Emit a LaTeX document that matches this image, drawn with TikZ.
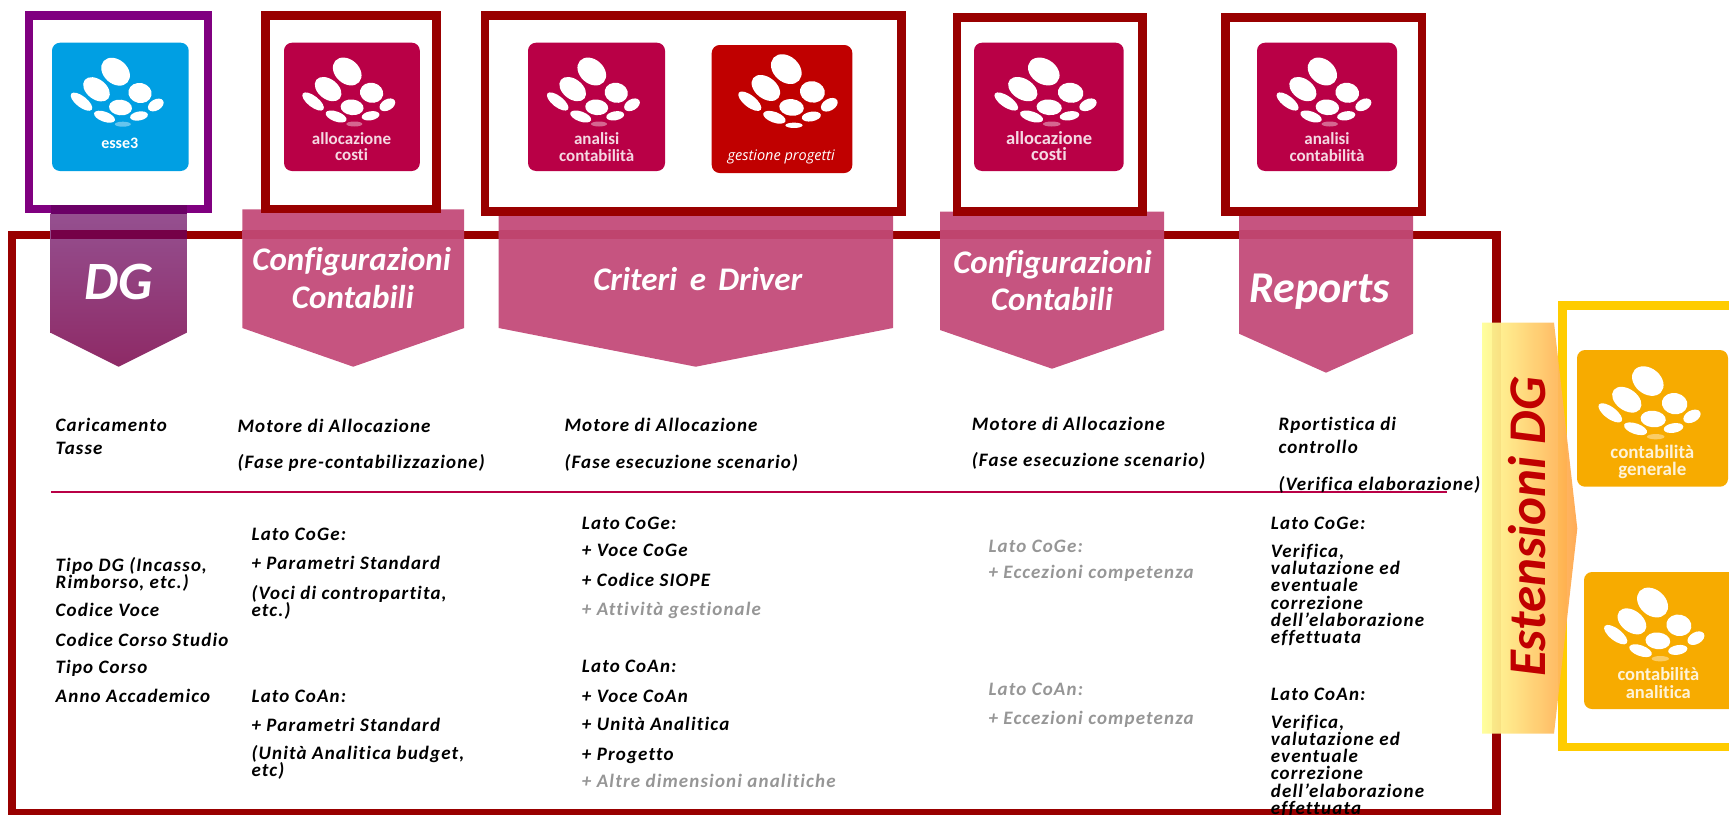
\documentclass[tikz,border=0pt]{standalone}
\usepackage{fontspec}
\newfontfamily\gill[LetterSpace=6,Ligatures=NoCommon]{Carlito}
\newfontfamily\gillb[Ligatures=NoCommon]{Carlito}
\newfontfamily\opens{Open Sans}
\definecolor{frameRed}{HTML}{990000}
\definecolor{framePurple}{HTML}{800080}
\definecolor{frameYellow}{HTML}{FFCC00}
\definecolor{bannerPink}{HTML}{C65480}
\definecolor{stripPink}{HTML}{BF446E}
\definecolor{iconBlue}{HTML}{009FE3}
\definecolor{iconPink}{HTML}{B90046}
\definecolor{iconRed}{HTML}{C00000}
\definecolor{iconOrange}{HTML}{F7AB00}
\definecolor{lineRose}{HTML}{B90046}
\definecolor{bodyGray}{HTML}{969696}
\definecolor{titleRed}{HTML}{C00000}
\definecolor{dgTop}{HTML}{955090}
\definecolor{dgBot}{HTML}{8E2A66}
\definecolor{dgStrip}{HTML}{750047}
\definecolor{dgFrame}{HTML}{6B0066}
\newcounter{txt}
\tikzset{
  body/.style={anchor=base west,inner sep=0pt,font=\gill\fontsize{19}{20}\selectfont\bfseries\itshape,text=black},
  grayb/.style={body,text=bodyGray},
  bantext/.style={anchor=base,inner sep=0pt,text=white,font=\gillb\bfseries\itshape\fontsize{#1}{#1}\selectfont},
  icotext/.style={anchor=base,inner sep=0pt,font=\gillb\bfseries\fontsize{#1}{#1}\selectfont},
  icotext/.default=17,
  frameb/.style={draw=#1,line width=8.5pt,line join=miter},
  icon/.style={fill=#1,rounded corners=8pt}
}
\newcommand{\txt}[4][body]{\stepcounter{txt}\node[#1] (t\arabic{txt}) at (#2,#3) {#4};}
\newcommand{\banner}[6]{\fill[bannerPink] (#1,#3) -- (#2,#3) -- (#2,#4) -- (#5,#6) -- (#1,#4) -- cycle;
  \fill[stripPink] (#1,230.3) rectangle (#2,239.3);}
% \logo{cx}{cy}{xscale}{yscale}{pale opacity}
\newcommand{\logo}[5]{\begin{scope}[shift={(#1,#2)},xscale=#3,yscale=#4]
  \foreach \ex/\ey/\ea/\eb/\er in {-7.2/-52.5/16/12/42, -26.3/-34.9/15/10/38, 17.2/-31.2/11.7/10/12,
     -41.3/-22.5/13/5.5/38, -2.3/-16.7/11.5/7.8/6, 33/-19.2/8.5/5.5/-30, -18.3/-7.5/11/5/20, 16.2/-8.2/9/4.5/-10}
    {\fill[white,shift={(\ex,\ey)},rotate=\er] (0,0) ellipse [x radius=\ea pt,y radius=\eb pt];}
  \fill[white,opacity=#5] (0,0) ellipse [x radius=8pt,y radius=2.5pt];
\end{scope}}
\begin{document}
\begin{tikzpicture}[x=1pt,y=1pt,yscale=-1]
\useasboundingbox (0,0) rectangle (1729,814);
\clip (0,0) rectangle (1729,814);
% main frame
\draw[frameb=frameRed] (12,234.8) rectangle (1496.6,813.5);
% banners
\shade[top color=dgTop,bottom color=dgBot] (50.5,213) -- (186.8,213) -- (186.8,332.7) -- (118.6,366.7) -- (50.5,332.7) -- cycle;
\fill[dgStrip] (50.5,230.3) rectangle (186.8,239.3);
\banner{242.3}{464.2}{209.3}{328}{353.2}{366.7}
\banner{498.7}{893}{212}{328}{695.7}{366.7}
\banner{940}{1164}{211.7}{330}{1052}{368.7}
\banner{1239}{1413}{212}{333.7}{1326}{372.7}
% frames
\draw[frameb=framePurple] (29.1,15.3) rectangle (208.2,209.2);
\fill[dgFrame] (50.5,205) rectangle (186.8,213.5);
\draw[frameb=frameRed] (265.6,15.3) rectangle (436.3,209.2);
\draw[frameb=frameRed] (485.2,15.3) rectangle (901.5,211.5);
\draw[frameb=frameRed] (957,17.3) rectangle (1142.5,211.5);
\draw[frameb=frameRed] (1225.5,17.3) rectangle (1421.8,211.5);
% icons
\fill[icon=iconBlue] (52,42.7) rectangle (188.7,171);
\fill[icon=iconPink] (284,42.7) rectangle (419.8,171);
\fill[icon=iconPink] (528,42.7) rectangle (665,171);
\fill[icon=iconRed] (711.7,45) rectangle (852.3,173);
\fill[icon=iconPink] (974,42.7) rectangle (1123.7,171);
\fill[icon=iconPink] (1257,42.7) rectangle (1397,171);
\logo{122.8}{124.2}{1}{1}{.4}
\logo{354.4}{124}{1}{1}{.4}
\logo{599}{124}{1}{1}{.4}
\logo{794}{125.3}{1.07}{1.07}{1}
\logo{1051.7}{124}{1.1}{1}{.4}
\logo{1329.7}{124}{1.02}{1}{.4}
\txt[icotext=16,text=white]{119.8}{148}{esse3}
\txt[icotext,text=white!85!iconPink]{351.5}{144}{allocazione}
\txt[icotext,text=white!85!iconPink]{351.5}{160.7}{costi}
\txt[icotext,text=white!85!iconPink]{596.7}{144}{analisi}
\txt[icotext,text=white!85!iconPink]{596.7}{161}{contabilità}
\txt[anchor=base,inner sep=0pt,text=white,font=\opens\itshape\fontsize{14.5}{15}\selectfont]{781.2}{160}{gestione progetti}
\txt[icotext=18.5,text=white!85!iconPink]{1049}{144}{allocazione}
\txt[icotext=18.5,text=white!85!iconPink]{1049}{160.7}{costi}
\txt[icotext,text=white!85!iconPink]{1327}{144}{analisi}
\txt[icotext,text=white!85!iconPink]{1327}{161}{contabilità}
% banner titles
\txt[bantext=54]{118.4}{299}{DG}
\txt[bantext=33]{351.7}{270.7}{Configurazioni}
\txt[bantext=33]{352.9}{308}{Contabili}
\txt[bantext=33]{697.8}{290}{Criteri\hspace{5pt} e\hspace{5pt} Driver}
\txt[bantext=33]{1052.5}{273}{Configurazioni}
\txt[bantext=33]{1052}{310.7}{Contabili}
\txt[bantext=44]{1319.5}{302.7}{Reports}
% rule
\draw[lineRose,line width=2pt] (51.3,491.7) -- (1446.7,491.7);
% column 1
\txt{55.5}{431}{Caricamento}
\txt{55.5}{454}{Tasse}
\txt{55.5}{571.7}{Tipo DG (Incasso,}
\txt{55.5}{588.3}{Rimborso, etc.)}
\txt{55.5}{616}{Codice Voce}
\txt{55.5}{646}{Codice Corso Studio}
\txt{55.5}{673.3}{Tipo Corso}
\txt{55.5}{702.7}{Anno Accademico}
% column 2
\txt{237.3}{432.3}{Motore di Allocazione}
\txt{237.3}{468.3}{(Fase pre-contabilizzazione)}
\txt{251.4}{540.7}{Lato CoGe:}
\txt{251.4}{569.3}{+ Parametri Standard}
\txt{251.4}{599.3}{(Voci di contropartita,}
\txt{251.4}{616.7}{etc.)}
\txt{251.4}{702}{Lato CoAn:}
\txt{251.4}{731}{+ Parametri Standard}
\txt{251.4}{759.3}{(Unità Analitica budget,}
\txt{251.4}{776.7}{etc)}
% column 3
\txt{564.3}{431.7}{Motore di Allocazione}
\txt{564.3}{468.3}{(Fase esecuzione scenario)}
\txt{581.7}{529}{Lato CoGe:}
\txt{581.7}{556.7}{+ Voce CoGe}
\txt{581.7}{586.7}{+ Codice SIOPE}
\txt[grayb]{581.7}{615}{+ Attività gestionale}
\txt{581.7}{672.7}{Lato CoAn:}
\txt{581.7}{702.7}{+ Voce CoAn}
\txt{581.7}{730}{+ Unità Analitica}
\txt{581.7}{760}{+ Progetto}
\txt[grayb]{581.7}{787.7}{+ Altre dimensioni analitiche}
% column 4
\txt{971.7}{430}{Motore di Allocazione}
\txt{971.7}{466}{(Fase esecuzione scenario)}
\txt[grayb]{988.3}{552.3}{Lato CoGe:}
\txt[grayb]{988.3}{578.3}{+ Eccezioni competenza}
\txt[grayb]{988.3}{695}{Lato CoAn:}
\txt[grayb]{988.3}{724.3}{+ Eccezioni competenza}
% column 5
\txt{1278.3}{430}{Rportistica di}
\txt{1278.3}{453.3}{controllo}
\txt{1278.3}{490}{(Verifica elaborazione)}
\txt{1270.7}{529}{Lato CoGe:}
\txt{1270.7}{557.3}{Verifica,}
\txt{1270.7}{574}{valutazione ed}
\txt{1270.7}{591}{eventuale}
\txt{1270.7}{609}{correzione}
\txt{1270.7}{626.3}{dell’elaborazione}
\txt{1270.7}{643.3}{effettuata}
\txt{1270.7}{700}{Lato CoAn:}
\txt{1270.7}{728.3}{Verifica,}
\txt{1270.7}{745}{valutazione ed}
\txt{1270.7}{762}{eventuale}
\txt{1270.7}{779.3}{correzione}
\txt{1270.7}{797}{dell’elaborazione}
\txt{1270.7}{814}{effettuata}
% right side
\draw[line width=8.5pt,frameYellow] (1750,305.3) -- (1562.5,305.3) -- (1562.5,747) -- (1750,747);
\shade[left color=yellow!40!white,right color=orange!70!white,opacity=.95] (1482,322.6) -- (1554,322.6) -- (1577.3,528.6) -- (1554,733.7) -- (1482,733.7) -- cycle;
\fill[icon=iconOrange] (1577,350) rectangle (1728,486.7);
\fill[icon=iconOrange] (1584,572) rectangle (1745,709);
\logo{1655.7}{436.7}{1.1}{1.06}{.4}
\logo{1660.3}{658.7}{1.08}{1.07}{.4}
\txt[icotext=19,text=white!85!iconOrange]{1652.3}{458.8}{contabilità}
\txt[icotext=19,text=white!85!iconOrange]{1652.3}{475.8}{generale}
\txt[icotext=18.5,text=white!85!iconOrange]{1658.3}{680}{contabilità}
\txt[icotext=18.5,text=white!85!iconOrange]{1658.3}{698}{analitica}
\node[anchor=base,rotate=90,inner sep=0pt,text=titleRed,font=\gillb\bfseries\itshape\fontsize{53}{53}\selectfont] (ext) at (1545,527) {Estensioni DG};
\end{tikzpicture}
\end{document}
